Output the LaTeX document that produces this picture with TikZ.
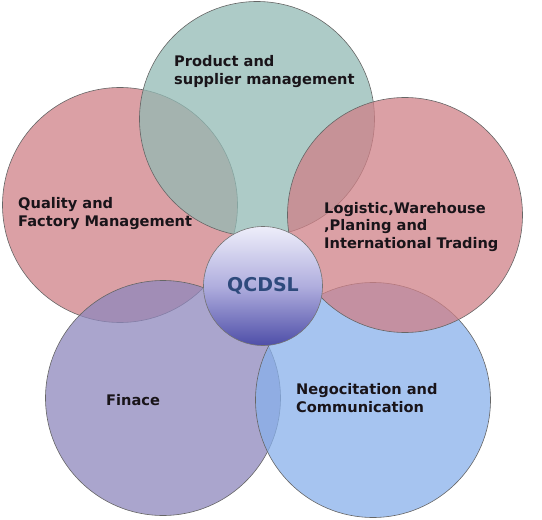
\documentclass[tikz,border=0pt]{standalone}
\usepackage{fontspec}
\setmainfont{DejaVu Sans}
\usepackage{tikz}
\usetikzlibrary{positioning}
\definecolor{mred}{RGB}{207, 128, 135}
\definecolor{mteal}{RGB}{146, 186, 180}
\definecolor{mpurple}{RGB}{142, 135, 188}
\definecolor{mblue}{RGB}{136, 176, 235}
\definecolor{mtext}{RGB}{25, 20, 25}
\definecolor{mqc}{RGB}{46, 74, 124}
\tikzset{petal/.style = {circle, draw=black!60, line width=0.6pt, fill opacity=0.75, minimum size=235pt, inner sep=0}}
\tikzset{lbl/.style = {anchor=west, align=left, inner sep=0, text=mtext, font=\bfseries\fontsize{14.6}{17.5}\selectfont}}

\begin{document}
\begin{tikzpicture}[x=1pt, y=-1pt]
      \useasboundingbox (0, 0) rectangle (542, 520);

      \node [petal, fill=mred] (quality) at (120, 205) {};
      \node [petal, fill=mteal] (product) at (257, 119) {};
      \node [petal, fill=mpurple] (finace) at (163, 398) {};
      \node [petal, fill=mblue] (nego) at (373, 400) {};
      \node [petal, fill=mred] (logistic) at (405, 215) {};

      \node [circle, draw=black!55, line width=0.6pt, minimum size=119pt, inner sep=0,
        top color={rgb,255:red,238;green,238;blue,250}, bottom color={rgb,255:red,78;green,78;blue,168},
        middle color={rgb,255:red,176;green,174;blue,222}] (core) at (263, 286) {};
      \node [text=mqc, font=\bfseries\fontsize{19}{22}\selectfont] (qcdsl) at (core) {QCDSL};

      \node [lbl] (tproduct) at (174, 71.5) {Product and\\supplier management};
      \node [lbl] (tquality) at (18, 213.5) {Quality and\\Factory Management};
      \node [lbl] (tlogistic) at (324, 227) {Logistic,Warehouse\\,Planing and\\International Trading};
      \node [lbl] (tnego) at (296, 398) {Negocitation and\\Communication};
      \node [lbl] (tfinace) at (106, 400) {Finace};
    \end{tikzpicture}
\end{document}
